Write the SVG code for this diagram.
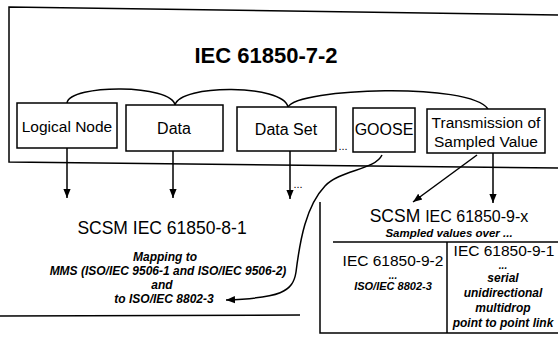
<svg xmlns="http://www.w3.org/2000/svg" width="558" height="344" viewBox="0 0 558 344">
<defs>
<style>
.ln{fill:none;stroke:#000;stroke-width:1.5}
.box{fill:#fff;stroke:#000;stroke-width:1.5}
.t{font-family:"Liberation Sans",Arial,sans-serif;fill:#000;text-anchor:middle}
.bi{font-family:"Liberation Sans",Arial,sans-serif;font-weight:bold;font-style:italic;fill:#000;text-anchor:middle}
</style>
<marker id="ah2" viewBox="0 0 10 10" refX="10" refY="5" markerWidth="9" markerHeight="9" markerUnits="userSpaceOnUse" orient="auto"><path d="M0,1 L10,5 L0,9 z" fill="#000"/></marker>
</defs>
<rect width="558" height="344" fill="#fff"/>
<g id="frame">
<path class="ln" d="M558,15 L9,7 L9,162 L558,168"/>
<text class="t" x="266" y="63" font-size="22" font-weight="bold">IEC 61850-7-2</text>
</g>
<g id="connectors">
<path class="ln" d="M67,103 C70,84 172,84 175,105"/>
<path class="ln" d="M175,105 C180,84 283,84 288,107"/>
<path class="ln" d="M288,107 C298,88 470,82 488,109"/>
<line class="ln" x1="67" y1="148" x2="67" y2="198" marker-end="url(#ah2)"/>
<line class="ln" x1="173" y1="151" x2="173" y2="198" marker-end="url(#ah2)"/>
<line class="ln" x1="290" y1="151" x2="290" y2="199" marker-end="url(#ah2)"/>
<text class="t" x="298" y="188" font-size="11">...</text>
<text class="t" x="343" y="150" font-size="11">...</text>
<path class="ln" d="M382,155 C375,170 340,170 325,186 C306,206 300,240 296,272 C293,292 280,298 226,300" marker-end="url(#ah2)"/>
<line class="ln" x1="477" y1="155" x2="413" y2="202" marker-end="url(#ah2)"/>
<line class="ln" x1="493" y1="153" x2="493" y2="203" marker-end="url(#ah2)"/>
</g>
<g id="logical-node">
<rect class="box" x="17" y="103" width="100" height="45"/>
<text class="t" x="67" y="132" font-size="15.5">Logical Node</text>
</g>
<g id="data">
<rect class="box" x="126" y="105" width="97" height="46"/>
<text class="t" x="174" y="134" font-size="16">Data</text>
</g>
<g id="data-set">
<rect class="box" x="237" y="107" width="99" height="44"/>
<text class="t" x="286" y="135" font-size="16">Data Set</text>
</g>
<g id="goose">
<rect class="box" x="353" y="108" width="62" height="44"/>
<text class="t" x="384" y="135" font-size="16">GOOSE</text>
</g>
<g id="transmission">
<rect class="box" x="427" y="109" width="118" height="44"/>
<text class="t" x="486" y="128" font-size="15.5">Transmission of</text>
<text class="t" x="486" y="147" font-size="15.5">Sampled Value</text>
</g>
<g id="scsm-8-1">
<text class="t" x="162" y="234" font-size="17.5">SCSM IEC 61850-8-1</text>
<text class="bi" x="165" y="261" font-size="12">Mapping to</text>
<text class="bi" x="168" y="275" font-size="12">MMS (ISO/IEC 9506-1 and ISO/IEC 9506-2)</text>
<text class="bi" x="162" y="289" font-size="12">and</text>
<text class="bi" x="164" y="303" font-size="12">to ISO/IEC 8802-3</text>
<path class="ln" d="M0,316 L300,315"/>
</g>
<g id="scsm-9-x">
<path class="ln" d="M320,202 L320,333 L558,333"/>
<path class="ln" d="M333,242 L558,242"/>
<path class="ln" d="M447,242 L447,333"/>
<text class="t" x="449" y="222" font-size="17.5"><tspan>SCSM </tspan><tspan font-size="16">IEC 61850-9-x</tspan></text>
<text class="bi" x="449" y="237" font-size="11.5">Sampled values over ...</text>
<text class="t" x="393" y="266" font-size="15.5">IEC 61850-9-2</text>
<text class="bi" x="393" y="279" font-size="10">...</text>
<text class="bi" x="393" y="290" font-size="11">ISO/IEC 8802-3</text>
<text class="t" x="504" y="256" font-size="15.5">IEC 61850-9-1</text>
<text class="bi" x="503" y="269" font-size="10">...</text>
<text class="bi" x="503" y="282" font-size="12">serial</text>
<text class="bi" x="503" y="297" font-size="12">unidirectional</text>
<text class="bi" x="503" y="312" font-size="12">multidrop</text>
<text class="bi" x="503" y="327" font-size="12">point to point link</text>
</g>
</svg>
